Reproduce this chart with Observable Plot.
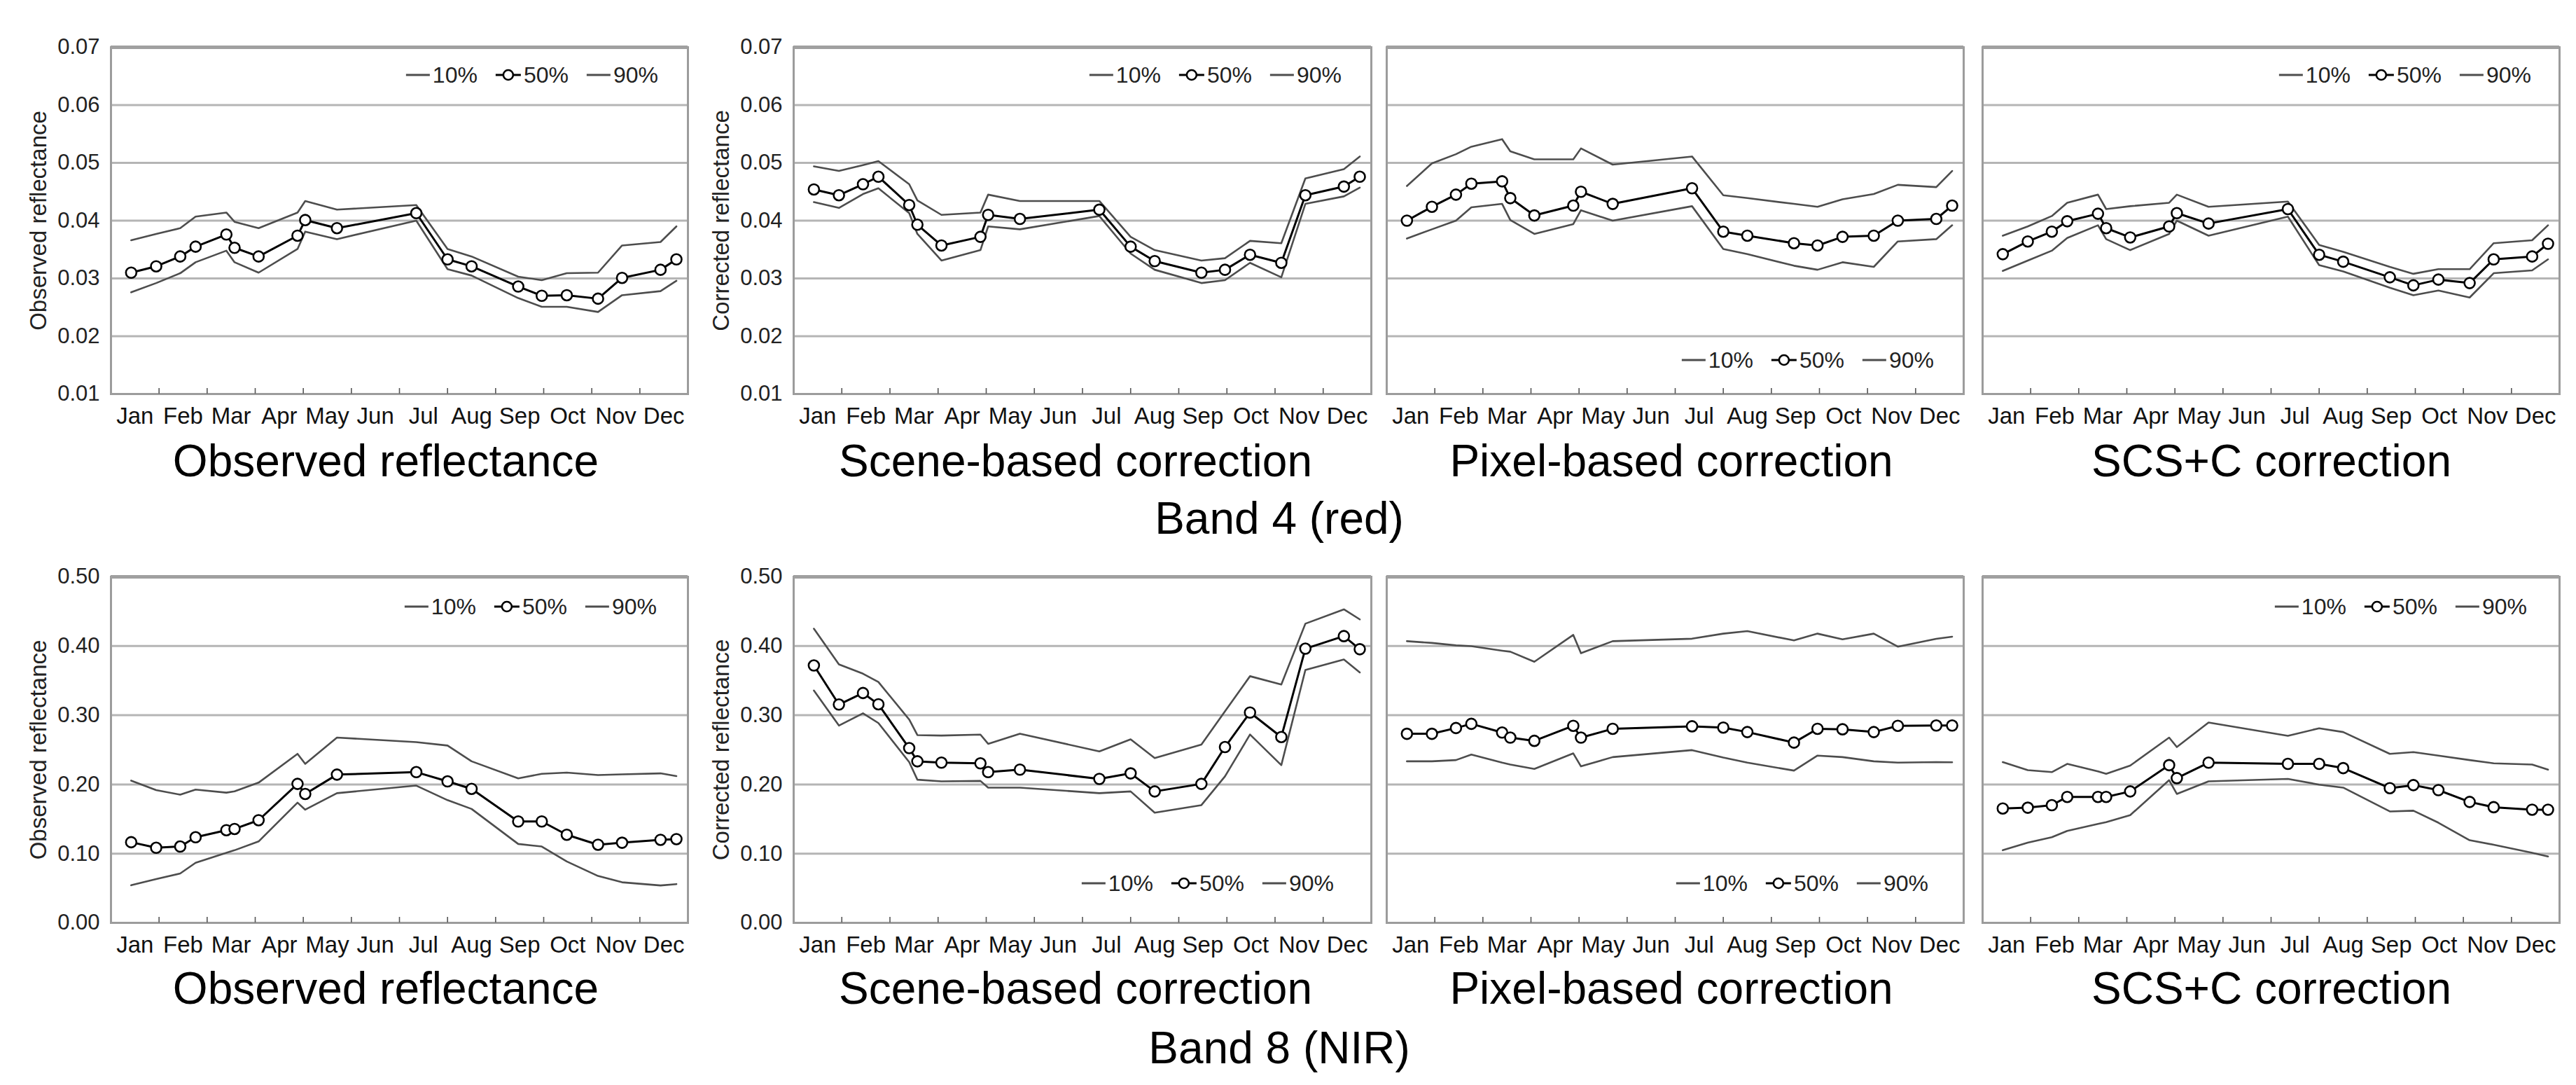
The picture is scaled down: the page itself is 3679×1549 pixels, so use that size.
<!DOCTYPE html>
<html><head><meta charset="utf-8">
<script src="https://cdn.jsdelivr.net/npm/d3@7"></script>
<script src="https://cdn.jsdelivr.net/npm/@observablehq/plot@0.6"></script>
<style>
html,body{margin:0;padding:0;background:#fff;}
#root{position:relative;width:3679px;height:1549px;font-family:"Liberation Sans",Arial,Helvetica,sans-serif;color:#000;overflow:hidden;background:#fff}
.title{position:absolute;font-size:64px;line-height:1;white-space:nowrap;transform:translateX(-50%)}
.legend{position:absolute;display:flex;align-items:center;height:32px;font-size:32px;line-height:1;white-space:nowrap;transform:translateX(-100%)}
.legend span{display:inline-block}
</style></head><body><div id="root"></div>
<script>
// ---------- data ----------
const months = ["Jan","Feb","Mar","Apr","May","Jun","Jul","Aug","Sep","Oct","Nov","Dec"];
// acquisition dates, as position along the year in months (0 = 1 Jan, 12 = 31 Dec)
const dates = [0.42, 0.94, 1.44, 1.76, 2.40, 2.57, 3.07, 3.88, 4.04, 4.70, 6.35, 7.00, 7.50, 8.47, 8.96, 9.48, 10.13, 10.63, 11.43, 11.76];
const seriesNames = ["10%", "50%", "90%"];
const yTicksB4 = [0.01, 0.02, 0.03, 0.04, 0.05, 0.06, 0.07];
const yTicksB8 = [0.00, 0.10, 0.20, 0.30, 0.40, 0.50];
const panelTitles = ["Observed reflectance", "Scene-based correction", "Pixel-based correction", "SCS+C correction"];
const bandTitles = ["Band 4 (red)", "Band 8 (NIR)"];
const yLabels = ["Observed reflectance", "Corrected reflectance"];

// Band 4 (red)
const b4_obs_p10 = [0.0276, 0.0292, 0.0309, 0.0328, 0.0348, 0.0328, 0.0310, 0.0351, 0.0381, 0.0368, 0.0400, 0.0316, 0.0305, 0.0266, 0.0251, 0.0251, 0.0242, 0.0271, 0.0278, 0.0296];
const b4_obs_p50 = [0.0310, 0.0321, 0.0338, 0.0355, 0.0376, 0.0353, 0.0338, 0.0374, 0.0401, 0.0387, 0.0413, 0.0333, 0.0321, 0.0286, 0.0270, 0.0271, 0.0265, 0.0301, 0.0315, 0.0333];
const b4_obs_p90 = [0.0366, 0.0377, 0.0387, 0.0407, 0.0414, 0.0398, 0.0387, 0.0414, 0.0434, 0.0419, 0.0427, 0.0351, 0.0338, 0.0303, 0.0297, 0.0309, 0.0310, 0.0357, 0.0363, 0.0390];

const b4_scene_p10 = [0.0432, 0.0422, 0.0446, 0.0456, 0.0413, 0.0377, 0.0331, 0.0349, 0.0390, 0.0385, 0.0408, 0.0343, 0.0315, 0.0292, 0.0297, 0.0327, 0.0302, 0.0429, 0.0442, 0.0457];
const b4_scene_p50 = [0.0454, 0.0444, 0.0463, 0.0476, 0.0427, 0.0393, 0.0357, 0.0372, 0.0410, 0.0403, 0.0419, 0.0355, 0.0330, 0.0310, 0.0315, 0.0341, 0.0327, 0.0444, 0.0459, 0.0476];
const b4_scene_p90 = [0.0494, 0.0486, 0.0496, 0.0503, 0.0463, 0.0435, 0.0410, 0.0414, 0.0445, 0.0434, 0.0434, 0.0372, 0.0349, 0.0331, 0.0335, 0.0365, 0.0361, 0.0473, 0.0489, 0.0511];

const b4_pixel_p10 = [0.0369, 0.0385, 0.0400, 0.0423, 0.0429, 0.0401, 0.0377, 0.0394, 0.0418, 0.0400, 0.0425, 0.0351, 0.0342, 0.0322, 0.0315, 0.0328, 0.0320, 0.0364, 0.0368, 0.0392];
const b4_pixel_p50 = [0.0400, 0.0424, 0.0445, 0.0464, 0.0468, 0.0439, 0.0409, 0.0426, 0.0450, 0.0429, 0.0456, 0.0381, 0.0374, 0.0361, 0.0357, 0.0372, 0.0374, 0.0400, 0.0403, 0.0426];
const b4_pixel_p90 = [0.0460, 0.0499, 0.0515, 0.0528, 0.0541, 0.0520, 0.0506, 0.0506, 0.0525, 0.0497, 0.0511, 0.0444, 0.0439, 0.0429, 0.0424, 0.0437, 0.0446, 0.0462, 0.0458, 0.0486];

const b4_scsc_p10 = [0.0313, 0.0331, 0.0348, 0.0370, 0.0392, 0.0368, 0.0349, 0.0377, 0.0400, 0.0374, 0.0407, 0.0323, 0.0312, 0.0284, 0.0271, 0.0279, 0.0267, 0.0309, 0.0314, 0.0333];
const b4_scsc_p50 = [0.0342, 0.0364, 0.0381, 0.0399, 0.0412, 0.0387, 0.0371, 0.0390, 0.0413, 0.0395, 0.0420, 0.0341, 0.0329, 0.0302, 0.0288, 0.0298, 0.0292, 0.0333, 0.0338, 0.0360];
const b4_scsc_p90 = [0.0374, 0.0390, 0.0408, 0.0431, 0.0445, 0.0420, 0.0425, 0.0431, 0.0445, 0.0424, 0.0433, 0.0358, 0.0346, 0.0320, 0.0308, 0.0316, 0.0316, 0.0361, 0.0366, 0.0392];

// Band 8 (NIR)
const b8_obs_p10 = [0.0543, 0.0633, 0.0713, 0.0868, 0.1013, 0.1049, 0.1176, 0.1737, 0.1635, 0.1874, 0.1983, 0.1773, 0.1646, 0.1140, 0.1103, 0.0887, 0.0677, 0.0586, 0.0540, 0.0560];
const b8_obs_p50 = [0.1165, 0.1085, 0.1103, 0.1237, 0.1339, 0.1357, 0.1483, 0.2008, 0.1863, 0.2142, 0.2178, 0.2044, 0.1936, 0.1465, 0.1465, 0.1273, 0.1129, 0.1158, 0.1200, 0.1210];
const b8_obs_p90 = [0.2055, 0.1918, 0.1852, 0.1925, 0.1881, 0.1900, 0.2026, 0.2442, 0.2297, 0.2677, 0.2612, 0.2562, 0.2334, 0.2088, 0.2153, 0.2171, 0.2135, 0.2145, 0.2160, 0.2120];

const b8_scene_p10 = [0.3357, 0.2851, 0.3028, 0.2887, 0.2323, 0.2069, 0.2044, 0.2051, 0.1954, 0.1954, 0.1874, 0.1899, 0.1592, 0.1701, 0.2116, 0.2721, 0.2279, 0.3654, 0.3806, 0.3618];
const b8_scene_p50 = [0.3719, 0.3155, 0.3321, 0.3158, 0.2525, 0.2334, 0.2315, 0.2305, 0.2178, 0.2214, 0.2080, 0.2160, 0.1899, 0.2008, 0.2540, 0.3039, 0.2685, 0.3962, 0.4143, 0.3954];
const b8_scene_p90 = [0.4251, 0.3734, 0.3600, 0.3480, 0.2938, 0.2713, 0.2706, 0.2720, 0.2587, 0.2732, 0.2478, 0.2652, 0.2381, 0.2576, 0.3057, 0.3564, 0.3444, 0.4323, 0.4530, 0.4385];

const b8_pixel_p10 = [0.2334, 0.2334, 0.2352, 0.2431, 0.2315, 0.2287, 0.2225, 0.2449, 0.2261, 0.2395, 0.2496, 0.2388, 0.2315, 0.2200, 0.2417, 0.2395, 0.2334, 0.2315, 0.2323, 0.2320];
const b8_pixel_p50 = [0.2732, 0.2732, 0.2815, 0.2876, 0.2750, 0.2677, 0.2630, 0.2847, 0.2677, 0.2804, 0.2840, 0.2822, 0.2757, 0.2605, 0.2804, 0.2797, 0.2757, 0.2847, 0.2851, 0.2851];
const b8_pixel_p90 = [0.4070, 0.4045, 0.4009, 0.3998, 0.3933, 0.3918, 0.3773, 0.4161, 0.3896, 0.4070, 0.4106, 0.4179, 0.4215, 0.4081, 0.4179, 0.4096, 0.4179, 0.3991, 0.4105, 0.4135];

const b8_scsc_p10 = [0.1049, 0.1158, 0.1237, 0.1328, 0.1429, 0.1455, 0.1556, 0.2062, 0.1863, 0.2044, 0.2080, 0.1997, 0.1954, 0.1610, 0.1621, 0.1447, 0.1194, 0.1129, 0.1013, 0.0959];
const b8_scsc_p50 = [0.1653, 0.1664, 0.1700, 0.1820, 0.1820, 0.1820, 0.1899, 0.2279, 0.2091, 0.2315, 0.2297, 0.2297, 0.2236, 0.1946, 0.1990, 0.1918, 0.1747, 0.1671, 0.1635, 0.1635];
const b8_scsc_p90 = [0.2323, 0.2207, 0.2178, 0.2297, 0.2189, 0.2153, 0.2272, 0.2677, 0.2540, 0.2894, 0.2703, 0.2811, 0.2757, 0.2442, 0.2467, 0.2417, 0.2352, 0.2305, 0.2287, 0.2214];

// ---------- layout ----------
const FONT = '"Liberation Sans", Arial, Helvetica, sans-serif';
const colLeft = [158, 1133, 1980, 2831];
const colRight = [982, 1958, 2804, 3655];
const rowTop = [67, 823];
const rowBottom = [562, 1317];
const svgMarginLeft = [158, 145, 12, 14];
const titleCenters = [551, 1536, 2387, 3244];
const titleBaselines = [680, 1433];
const bandCenter = 1827;
const bandBaselines = [762, 1518];

const data = [
  [[b4_obs_p10, b4_obs_p50, b4_obs_p90], [b4_scene_p10, b4_scene_p50, b4_scene_p90], [b4_pixel_p10, b4_pixel_p50, b4_pixel_p90], [b4_scsc_p10, b4_scsc_p50, b4_scsc_p90]],
  [[b8_obs_p10, b8_obs_p50, b8_obs_p90], [b8_scene_p10, b8_scene_p50, b8_scene_p90], [b8_pixel_p10, b8_pixel_p50, b8_pixel_p90], [b8_scsc_p10, b8_scsc_p50, b8_scsc_p90]]
];
// legend placement: [vertical center, right edge]
const legendPos = [
  [[107, 940], [107, 1916], [514, 2762], [107, 3615]],
  [[866, 938], [1261, 1905], [1261, 2754], [866, 3609]]
];

const root = document.getElementById("root");
const monthEdges = d3.range(1, 12);
const monthCenters = months.map((m, i) => i + 0.5);
const LINE_GRAY = "#4d4d4d";

for (let r = 0; r < 2; r++) {
  const yTicks = r === 0 ? yTicksB4 : yTicksB8;
  for (let c = 0; c < 4; c++) {
    const [p10, p50, p90] = data[r][c];
    const rows = dates.map((d, i) => ({date: d, p10: p10[i], p50: p50[i], p90: p90[i]}));
    const mL = svgMarginLeft[c], mR = 12, mT = 10, mB = 62;
    const plotW = colRight[c] - colLeft[c];
    const plotH = rowBottom[r] - rowTop[r];
    const showY = c < 2;
    const marks = [
      Plot.ruleY(yTicks, {stroke: "#b5b5b5", strokeWidth: 3}),
      Plot.frame({stroke: "#9c9c9c", strokeWidth: 3}),
      Plot.ruleY([d3.max(yTicks)], {stroke: "#a0a0a0", strokeWidth: 5}),
      Plot.ruleX(monthEdges, {stroke: "#555", strokeWidth: 1.6, insetTop: plotH - 8}),
      Plot.axisX({ticks: monthCenters, tickSize: 0, tickPadding: 19, tickFormat: d => months[Math.floor(d)], fontSize: 33, fill: "#111", label: null}),
      Plot.line(rows, {x: "date", y: "p10", stroke: LINE_GRAY, strokeWidth: 2.6}),
      Plot.line(rows, {x: "date", y: "p90", stroke: LINE_GRAY, strokeWidth: 2.6}),
      Plot.line(rows, {x: "date", y: "p50", stroke: "#000", strokeWidth: 3}),
      Plot.dot(rows, {x: "date", y: "p50", r: 7.5, fill: "white", stroke: "#000", strokeWidth: 2.6})
    ];
    if (showY) {
      marks.push(Plot.axisY({ticks: yTicks, tickSize: 0, tickPadding: 16, tickFormat: d3.format(".2f"), fontSize: 31, fill: "#222", label: null}));
      marks.push(Plot.text([yLabels[c === 0 ? 0 : 1]], {text: d => d, frameAnchor: "left", textAnchor: "middle", lineAnchor: "middle", rotate: -90, dx: -103, fontSize: 33, fill: "#222"}));
    }
    const chart = Plot.plot({
      width: mL + plotW + mR,
      height: mT + plotH + mB,
      marginLeft: mL, marginRight: mR, marginTop: mT, marginBottom: mB,
      style: {background: "transparent", fontFamily: FONT, overflow: "visible"},
      x: {domain: [0, 12], axis: null},
      y: {domain: [d3.min(yTicks), d3.max(yTicks)], axis: null},
      marks
    });
    chart.style.position = "absolute";
    chart.style.left = (colLeft[c] - mL) + "px";
    chart.style.top = (rowTop[r] - mT) + "px";
    chart.style.maxWidth = "none";
    root.appendChild(chart);

    // legend
    const [ly, lx] = legendPos[r][c];
    const lg = document.createElement("div");
    lg.className = "legend";
    lg.style.left = lx + "px";
    lg.style.top = (ly - 16) + "px";
    seriesNames.forEach((name, k) => {
      const sw = document.createElementNS("http://www.w3.org/2000/svg", "svg");
      const w = k === 1 ? 38 : 36;
      sw.setAttribute("width", w); sw.setAttribute("height", 32);
      sw.style.display = "block";
      const ln = document.createElementNS("http://www.w3.org/2000/svg", "line");
      ln.setAttribute("x1", 1); ln.setAttribute("x2", w - 1);
      ln.setAttribute("y1", 16); ln.setAttribute("y2", 16);
      ln.setAttribute("stroke", k === 1 ? "#000" : LINE_GRAY);
      ln.setAttribute("stroke-width", 3);
      sw.appendChild(ln);
      if (k === 1) {
        const ci = document.createElementNS("http://www.w3.org/2000/svg", "circle");
        ci.setAttribute("cx", w / 2); ci.setAttribute("cy", 16); ci.setAttribute("r", 7);
        ci.setAttribute("fill", "white"); ci.setAttribute("stroke", "#000"); ci.setAttribute("stroke-width", 2.6);
        sw.appendChild(ci);
      }
      lg.appendChild(sw);
      const t = document.createElement("span");
      t.textContent = name;
      t.style.marginLeft = "3px";
      t.style.color = "#222";
      if (k < 2) t.style.marginRight = "25px";
      lg.appendChild(t);
    });
    root.appendChild(lg);

    // panel title
    const tt = document.createElement("div");
    tt.className = "title";
    tt.textContent = panelTitles[c];
    tt.style.left = titleCenters[c] + "px";
    tt.style.top = (titleBaselines[r] - 54) + "px";
    root.appendChild(tt);
  }
  const bt = document.createElement("div");
  bt.className = "title";
  bt.textContent = bandTitles[r];
  bt.style.left = bandCenter + "px";
  bt.style.top = (bandBaselines[r] - 54) + "px";
  root.appendChild(bt);
}
</script></body></html>
